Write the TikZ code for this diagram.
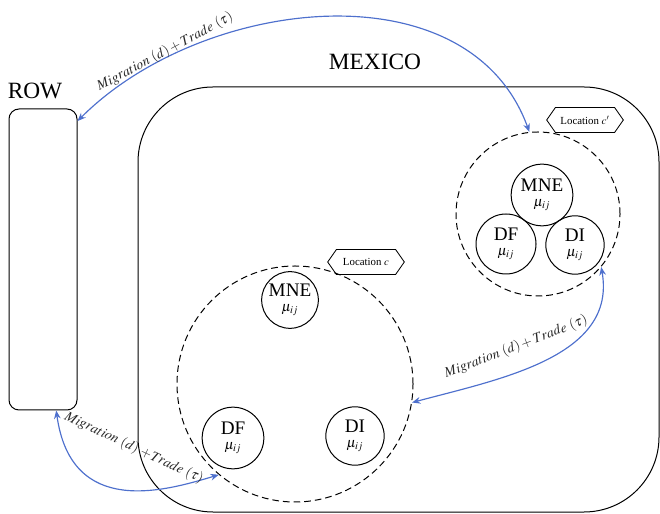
\documentclass[tikz,border=0pt]{standalone}
\usepackage{mathptmx}
\usepackage{fontspec}
\setmainfont{Liberation Serif}
\usetikzlibrary{shapes.symbols,arrows.meta}
\definecolor{linkblue}{RGB}{78,112,205}
\tikzset{
  firm/.style={circle,draw,line width=0.6pt,minimum size=36pt,inner sep=0pt,align=center,font=\fontsize{11.5}{9}\selectfont},
  city/.style={circle,draw,dash pattern=on 4pt off 2.4pt,line width=0.6pt,inner sep=0pt},
  loc/.style={signal,signal to=west and east,signal pointer angle=110,draw,line width=0.5pt,minimum width=46pt,minimum height=15pt,inner sep=1pt,font=\fontsize{6.5}{7}\selectfont},
  link/.style={{Stealth[length=5pt,width=4pt]}-{Stealth[length=5pt,width=4pt]},linkblue,line width=0.7pt},
  linklabel/.style={text=black!85,font=\fontsize{8.4}{9}\selectfont,inner sep=1.5pt},
}
\newcommand{\mig}{$Migration\ (d) + Trade\ (\tau)$}
\newcommand{\muij}{{\fontsize{8.5}{9}\selectfont$\mu_{ij}$}}
\begin{document}
\begin{tikzpicture}[x=0.6pt,y=0.6pt]
\useasboundingbox (0,0) rectangle (660,513);
% rest of the world
\node[draw,line width=0.6pt,rounded corners=6pt,minimum width=40.8pt,minimum height=180.6pt] (row) at (43,253.5) {};
\node[font=\fontsize{14}{16}\selectfont] (rowlab) at (35,422) {ROW};
% Mexico
\draw[line width=0.6pt,rounded corners=45pt] (138,1) rectangle (659,426);
\node[font=\fontsize{14}{16}\selectfont] (mexlab) at (375,451) {MEXICO};
% location c'
\node[city,minimum size=98.4pt] (cityb) at (538,299) {};
\node[loc] (locb) at (585,393) {Location $c'$};
\node[firm,minimum size=37pt] (mneb) at (542,318) {MNE\\\muij};
\node[firm] (dfb) at (506,269) {DF\\\muij};
\node[firm,minimum size=35pt] (dib) at (575,268) {DI\\\muij};
% location c
\node[city,minimum size=141.6pt] (cityc) at (295,129) {};
\node[loc] (locc) at (366,251) {Location $c$};
\node[firm,minimum size=34pt] (mnec) at (290,213) {MNE\\\muij};
\node[firm,minimum size=37pt] (dfc) at (233,75) {DF\\\muij};
\node[firm,minimum size=35pt] (dic) at (355,77) {DI\\\muij};
% flows
\draw[link] (row.76) to[out=45,in=110] (cityb.96);
\node[linklabel,rotate=28] (labtop) at (165,461) {\mig};
\draw[link] (cityb.-40) to[out=-80,in=15] (cityc.-9);
\node[linklabel,rotate=21] (labmid) at (516,166) {\mig};
\draw[link] (row.-85) .. controls +(15,-108) and +(-53,-16) .. (cityc.-130);
\node[linklabel,rotate=-25] (labbot) at (134,65) {$Migration\ (d)\ {+}Trade\ (\tau)$};
\end{tikzpicture}
\end{document}
